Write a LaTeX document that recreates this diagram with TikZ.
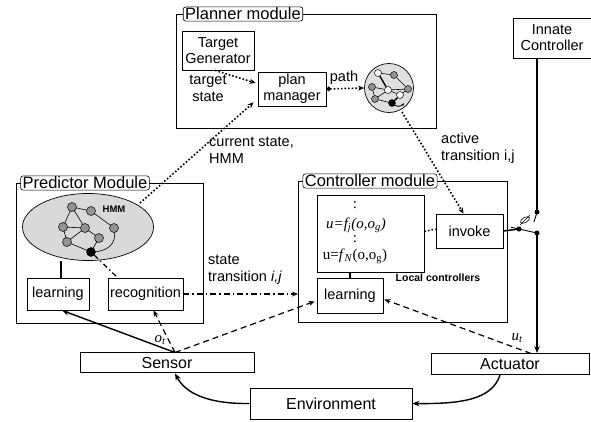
\documentclass[tikz,border=0pt]{standalone}
\usepackage{fontspec}
\setmainfont{Liberation Sans}
\newfontfamily\tms{Liberation Serif}
\usetikzlibrary{arrows.meta,shapes.geometric,calc}
\begin{document}
\begin{tikzpicture}[x=1pt,y=-1pt,
  frame/.style={draw,line width=0.8pt},
  title/.style={draw,rounded corners=2.5pt,fill=white,inner xsep=2pt,inner ysep=1pt,line width=0.6pt,font=\fontsize{16.5}{16.5}\selectfont},
  box/.style={draw,fill=white,line width=0.8pt,font=\fontsize{14.5}{16}\selectfont,align=center,inner sep=0pt},
  bbox/.style={box,font=\fontsize{16}{17}\selectfont},
  lbl/.style={font=\fontsize{14.5}{17}\selectfont,align=left,inner sep=0pt},
  gn/.style={circle,draw,fill=gray!85,inner sep=0pt,minimum size=9pt,line width=0.5pt},
  sgn/.style={circle,draw,fill=gray!85,inner sep=0pt,minimum size=7pt,line width=0.5pt},
  wn/.style={circle,draw,fill=white,inner sep=0pt,minimum size=7pt,line width=0.5pt},
  bn/.style={circle,draw,fill=black,inner sep=0pt,minimum size=9pt},
  edge/.style={line width=0.6pt},
  dotarrow/.style={line width=1.6pt,dotted,-{Stealth[length=6pt,width=5pt]}},
  dasharrow/.style={line width=1.2pt,dash pattern=on 6pt off 4pt,-{Stealth[length=6pt,width=5pt]}},
  dasharrowdot/.style={line width=1.2pt,dash pattern=on 6pt off 3pt on 1.5pt off 3pt,-{Stealth[length=6pt,width=5pt]}},
  solidarrow/.style={line width=1.4pt,-{Stealth[length=7pt,width=5.5pt]}},
  dotpt/.style={circle,fill=black,inner sep=0pt,minimum size=5pt},
  sym/.style={font=\tms\fontsize{15}{15}\selectfont}
]
\useasboundingbox (0,0) rectangle (591,421);

% ---------- Planner module ----------
\draw[frame] (176,14) rectangle (436,128);
\node[title] (ptitle) at (243,14) {Planner module};
\node[box,minimum width=72pt,minimum height=39pt] (tg) at (218,50.5) {Target\\Generator};
\node[box,minimum width=68pt,minimum height=34pt] (pm) at (292,89) {plan\\manager};
\node[lbl,align=center] (tstate) at (208,88) {target\\state};
\node[circle,draw,fill=gray!25,minimum size=49pt,inner sep=0pt,line width=0.7pt] (circ) at (389,88) {};
\node[lbl] (path) at (344,78) {path};
% small graph in circle
\node[wn] (c1) at (378,73) {};
\node[sgn] (c2) at (394,75) {};
\node[sgn] (c3) at (372,87) {};
\node[wn] (c4) at (388,90) {};
\node[sgn] (c5) at (408,89) {};
\node[sgn] (c6) at (375,99) {};
\node[wn] (c7) at (400,95) {};
\node[bn,minimum size=7pt] (c8) at (392,103) {};
\draw[edge] (c1) -- (c2) (c2) -- (c5) (c3) -- (c4) (c3) -- (c6) (c4) -- (c5)
  (c4) -- (c6) (c6) -- (c8) (c7) -- (c5) (c4) -- (c7);
\draw[line width=1.4pt] (c1) -- (c4);
\draw[line width=1.4pt] (c7) -- (c8);
\draw[line width=0.8pt,-{Stealth[length=3pt]}] (c8) to[bend right=40] (404,103);

\draw[dotarrow] (tg.south) ++(-3,0) -- ($(pm.west)+(-2,-6)$);
\draw[line width=1.6pt,dotted,{Circle[length=4.5pt]}-{Stealth[length=6pt,width=5pt]}] (pm.east) -- (circ.west);

% ---------- Innate controller ----------
\node[box,minimum width=78pt,minimum height=40pt] (ic) at (552,38) {Innate\\Controller};

% ---------- Predictor module ----------
\draw[frame] (16,183) rectangle (203,323);
\node[title] (prtitle) at (85,183) {Predictor Module};
\node[ellipse,draw,fill=gray!30,minimum width=131pt,minimum height=67pt,inner sep=0pt,line width=0.7pt] (ell) at (88,227) {};
\node[font=\bfseries\fontsize{9.5}{10}\selectfont] (hmm) at (114,209) {HMM};
\coordinate (p1) at (72,207);
\coordinate (p2) at (91,211);
\coordinate (p3) at (63,227);
\coordinate (p4) at (85,228);
\coordinate (p5) at (114,228);
\coordinate (p6) at (67,242);
\coordinate (p7) at (99,238);
\coordinate (p8) at (91,252);
\draw[edge] (p1) -- (p2) (p1) -- (p4) (p2) -- (p5) (p3) -- (p4) (p3) -- (p6)
  (p4) -- (p6) (p4) -- (p7) (p7) -- (p8) (p6) -- (p8) (p1) -- (p3);
\draw[edge] (p5) .. controls (118,245) and (106,252) .. (p8);
\node[gn] (n1) at (p1) {};
\node[gn] (n2) at (p2) {};
\node[gn] (n3) at (p3) {};
\node[gn] (n4) at (p4) {};
\node[gn] (n5) at (p5) {};
\node[gn] (n6) at (p6) {};
\node[gn] (n7) at (p7) {};
\node[bn] (n8) at (p8) {};

\node[box,minimum width=62pt,minimum height=32pt] (plearn) at (58,294) {learning};
\node[box,minimum width=75pt,minimum height=32pt] (prec) at (145.5,294) {recognition};
\draw[line width=1.3pt] (plearn.north -| 61,0) -- (61,260.5);
\draw[line width=1.2pt,dash pattern=on 5pt off 3pt on 1.5pt off 3pt] (n8) -- (118,278);

% current state arrow
\draw[dotarrow] (140,203) -- ($(pm.south west)+(-4,-4)$);
\node[lbl,anchor=north west] (cstate) at (209,137) {current state,\\HMM};

% ---------- Controller module ----------
\draw[frame] (298,181) rectangle (507,322);
\node[title] (ctitle) at (370,181) {Controller module};
\node[box,minimum width=107pt,minimum height=77pt] (loc) at (370.5,233.5) {};
\node[sym] at (355,205) {:};
\node[sym] (fj) at (356,225) {\itshape u=f\textsubscript{j}(o,o\textsubscript{g})};
\node[sym] at (355,239) {:};
\node[sym] (fn) at (355,256) {u=\textit{f}\textsubscript{\textit{N}}(o,o\textsubscript{g})};
\node[font=\bfseries\fontsize{10.5}{11}\selectfont] (locl) at (438,278) {Local controllers};
\node[box,minimum width=67pt,minimum height=34pt] (inv) at (469.5,231) {invoke};
\node[box,minimum width=66pt,minimum height=35pt] (clearn) at (350,295.5) {learning};
\draw[line width=1.2pt] (loc.south -| 350,0) -- (clearn.north);
\draw[line width=1.6pt,dotted] (loc.east) ++(0,-2) -- ($(inv.west)+(0,-2)$);

\draw[dotarrow] (402,112) -- ($(inv.north)+(-6,0)$);
\node[lbl,anchor=north west] (atrans) at (441,133) {active\\transition i,j};

% state transition
\draw[dasharrowdot] (prec.east) -- (298,294);
\node[lbl,anchor=north west] (strans) at (208,255) {state\\transition \textit{i,j}};

% ---------- Switch ----------
\coordinate (sw1) at (537,212);
\coordinate (sw2) at (537,233);
\coordinate (swi) at (519,229);
\draw[line width=1.5pt] (inv.east) -- (swi);
\draw[line width=0.9pt] (sw2) -- ($(sw2)!1.45!(swi)$);
\draw[line width=0.9pt] (sw1) -- (534,222);
\node[dotpt] at (sw1) {};
\node[dotpt] at (sw2) {};
\node[dotpt] at (swi) {};
\draw[line width=0.6pt,rotate around={30:(525,220)}] (525,220) ellipse (5pt and 2.5pt);
\draw[line width=0.6pt] (520,225) -- (530,215);

% ---------- Bottom row ----------
\node[bbox,minimum width=174pt,minimum height=20pt] (sensor) at (167,362.5) {Sensor};
\node[bbox,minimum width=158pt,minimum height=21pt] (act) at (510,364) {Actuator};
\node[bbox,minimum width=162pt,minimum height=31pt] (env) at (331,403.5) {Environment};

\draw[line width=1.4pt] (ic.south -| sw1) -- (sw1);
\draw[solidarrow] (sw2) -- (sw2 |- act.north);

\coordinate (stop) at (175,352.5);
\draw[solidarrow] (stop) -- ($(plearn.south)+(4,0)$);
\draw[dasharrow] (stop) -- ($(prec.south)+(8,0)$);
\draw[dasharrow] (stop) -- ($(clearn.south west)+(-2,-12)$);
\node[font=\tms\itshape\fontsize{15}{15}\selectfont] (ot) at (160,340) {o\textsubscript{t}};
\draw[dasharrow] (531,353.5) -- ($(clearn.east)+(1,4)$);
\node[font=\tms\itshape\fontsize{15}{15}\selectfont] (ut) at (517,338) {u\textsubscript{t}};

\draw[solidarrow] (env.west) .. controls (205,404) and (185,392) .. (175,373.5);
\draw[solidarrow] (500,375) .. controls (492,400) and (460,404) .. (env.east);
\end{tikzpicture}
\end{document}
